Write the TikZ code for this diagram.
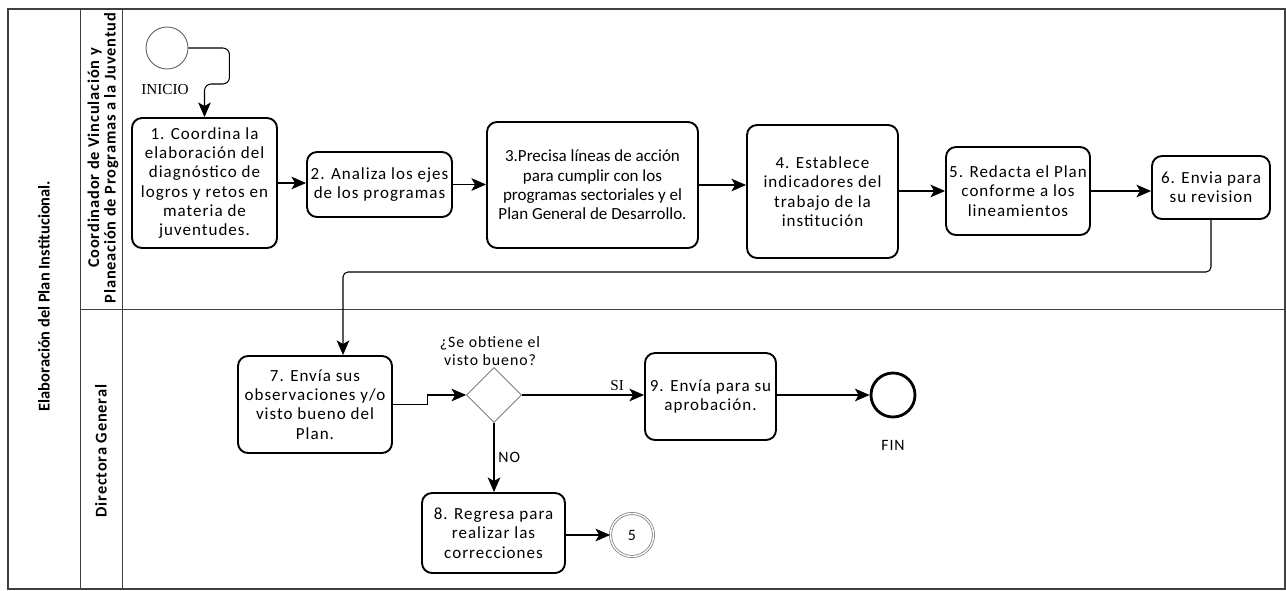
\documentclass[tikz,border=0pt]{standalone}
\usepackage{fontspec}
\setmainfont{Carlito}
\newfontfamily\taskfont[LetterSpace=6]{Carlito}
\newfontfamily\lanefont[LetterSpace=5]{Carlito}
\newfontfamily\labelserif{Liberation Serif}
\usetikzlibrary{shapes.geometric,arrows.meta}

\begin{document}
\begin{tikzpicture}[x=0.3mm, y=-0.3mm,
    >={Stealth[length=4.4mm,width=3.8mm,inset=1.1mm]},
    lane/.style={draw=black!75, line width=0.7pt},
    lanetitle/.style={rotate=90, font=\lanefont\fontsize{14}{14}\selectfont\bfseries, align=center},
    task/.style={draw, line width=1.6pt, rounded corners=3mm, align=center, inner sep=2pt,
      font=\taskfont\fontsize{14.5}{16.5}\selectfont},
    flow/.style={->, line width=0.9pt},
    evlabel/.style={font=\taskfont\fontsize{13.5}{16}\selectfont}]
  \useasboundingbox (0,0) rectangle (1286,590);
  % pool and lanes
  \draw[lane, line width=1pt] (8,9) rectangle (1285,589);
  \draw[lane] (80,9) -- (80,589);
  \draw[lane] (122,9) -- (122,589);
  \draw[lane] (80,309) -- (1285,309);
  \node[lanetitle, font=\fontsize{14}{14}\selectfont\bfseries] (pool) at (44,296) {Elaboración del Plan Institucional.};
  \node[lanetitle] (lanecoord) at (103,158) {Coordinador de Vinculación y\\Planeación de Programas a la Juventud};
  \node[lanetitle] (lanedir) at (101,451) {Directora General};
  % events
  \node[circle, draw=black!60, line width=0.8pt, minimum size=12.6mm] (inicio) at (167,48) {};
  \node[font=\labelserif\fontsize{13}{15}\selectfont] (inicio-lbl) at (165,90) {INICIO};
  \node[circle, draw, line width=2.4pt, minimum size=13.2mm] (fin) at (893,395) {};
  \node[evlabel] (fin-lbl) at (893,445) {FIN};
  \node[circle, draw=black!55, double, double distance=1.2pt, line width=0.6pt,
    minimum size=12.9mm, evlabel] (link5) at (632,535) {5};
  % tasks, first lane
  \node[task, minimum width=43.5mm, minimum height=39mm] (t1) at (204.5,183)
    {1. Coordina la\\elaboración del\\diagnóstico de\\logros y retos en\\materia de\\juventudes.};
  \node[task, minimum width=43.5mm, minimum height=19.5mm] (t2) at (379.5,184.5)
    {2. Analiza los ejes\\de los programas};
  \node[task, minimum width=63.3mm, minimum height=37.8mm, font=\fontsize{14.5}{16.5}\selectfont] (t3) at (592.5,185)
    {3.Precisa líneas de acción\\para cumplir con los\\programas sectoriales y el\\Plan General de Desarrollo.};
  \node[task, minimum width=45.3mm, minimum height=39.9mm] (t4) at (822.5,191.5)
    {4. Establece\\indicadores del\\trabajo de la\\institución};
  \node[task, minimum width=43.2mm, minimum height=26.4mm] (t5) at (1018,191)
    {5. Redacta el Plan\\conforme a los\\lineamientos};
  \node[task, minimum width=35.4mm, minimum height=18.9mm] (t6) at (1211,187.5)
    {6. Envia para\\su revision};
  % tasks, second lane
  \node[task, minimum width=46.2mm, minimum height=29.1mm] (t7) at (315,404.5)
    {7. Envía sus\\observaciones y/o\\visto bueno del\\Plan.};
  \node[diamond, draw=black!60, line width=0.6pt, minimum width=16.5mm, minimum height=16.5mm,
    inner sep=0pt] (dec) at (494,395) {};
  \node[evlabel, align=center] (dec-lbl) at (490,351) {¿Se obtiene el\\visto bueno?};
  \node[task, minimum width=39.3mm, minimum height=26.1mm] (t9) at (710.5,396.5)
    {9. Envía para su\\aprobación.};
  \node[task, minimum width=42.9mm, minimum height=24mm] (t8) at (493.5,533)
    {8. Regresa para\\realizar las\\correcciones};
  % sequence flows
  \draw[flow, rounded corners=2mm] (inicio.east) -| ++(41,36) -| (t1.north);
  \draw[flow] (t1.east) -- (t1.east -| t2.west);
  \draw[flow] (t2.east) -- (t2.east -| t3.west);
  \draw[flow] (t3.east) -- (t3.east -| t4.west);
  \draw[flow] (t4.east |- t5.west) -- (t5.west);
  \draw[flow] (t5.east) -- (t5.east -| t6.west);
  \coordinate (back) at (343,272);
  \draw[flow, rounded corners=1.5mm] (t6.south) |- (back) -- (back |- t7.north);
  \draw[flow] (t7.east) -- ++(35,0) |- (dec.west);
  \draw[flow] (dec.east) -- (dec.east -| t9.west) node[pos=0.78, above, font=\labelserif\fontsize{13}{15}\selectfont] {SI};
  \draw[flow] (dec.south) -- (dec.south |- t8.north) node[pos=0.5, right, evlabel] {NO};
  \draw[flow] (t9.east |- fin.west) -- (fin.west);
  \draw[flow] (t8.east |- link5.west) -- (link5.west);
\end{tikzpicture}
\end{document}
